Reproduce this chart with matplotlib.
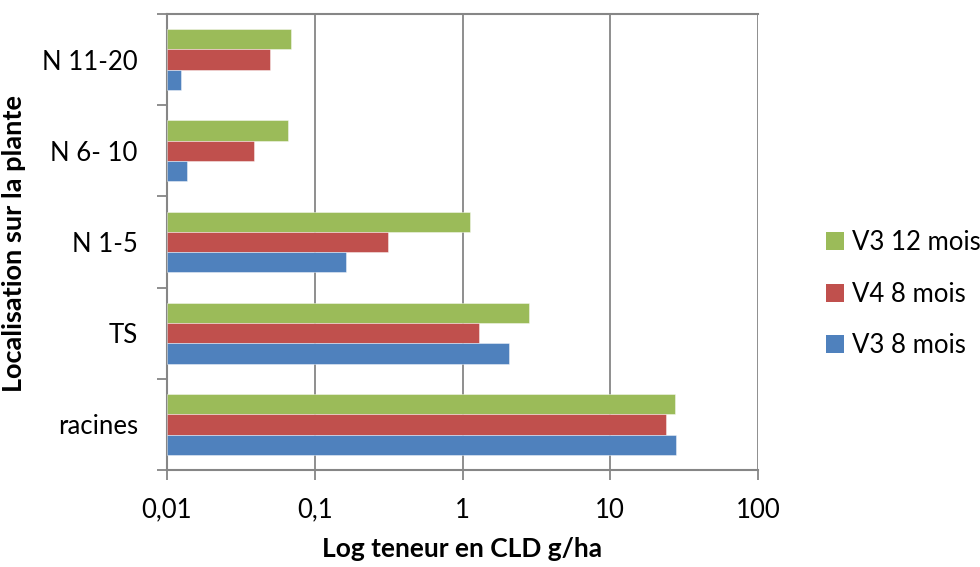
import matplotlib
matplotlib.use("Agg")
import matplotlib.pyplot as plt
import numpy as np
from matplotlib.patches import Patch

plt.rcParams['font.family'] = ['Lato', 'DejaVu Sans']

categories = ["racines", "TS", "N 1-5", "N 6- 10", "N 11-20"]
series_names = ["V3 12 mois", "V4 8 mois", "V3 8 mois"]
v3_12 = [27.4, 2.81, 1.12, 0.0658, 0.0693]
v4_8 = [23.9, 1.29, 0.313, 0.0388, 0.050]
v3_8 = [27.7, 2.06, 0.164, 0.01365, 0.01243]
x_ticks = [0.01, 0.1, 1, 10, 100]
x_ticklabels = ["0,01", "0,1", "1", "10", "100"]

colors = ["#9BBB59", "#C0504D", "#4F81BD"]
gray = "#868686"
fs = 18.5

fig = plt.figure(figsize=(9.8, 5.67), dpi=100)
ax = fig.add_axes([167/980, 1-470/567, (758-167)/980, (470-14)/567])

w = 1/4.5
y = np.arange(len(categories))
base = 0.01
for vals, off, c in zip([v3_12, v4_8, v3_8], [w, 0, -w], colors):
    vals = np.asarray(vals)
    ax.barh(y + off, vals - base, left=base, height=w, color=c,
            edgecolor=(1, 1, 1, 0.5), linewidth=0.6, zorder=3)

ax.set_xscale('log')
ax.set_xlim(0.01, 100)
ax.set_ylim(-0.5, len(categories) - 0.5)
ax.set_xticks(x_ticks)
ax.set_xticklabels(x_ticklabels)
ax.xaxis.set_minor_locator(matplotlib.ticker.NullLocator())
ax.set_yticks(y)
ax.set_yticklabels(categories)
ax.set_yticks(np.arange(-0.5, len(categories)), minor=True)
ax.tick_params(axis='y', which='major', length=0, pad=21, labelsize=fs)
ax.tick_params(axis='y', which='minor', length=7, width=1.3, color=gray, direction='out')
ax.tick_params(axis='x', which='major', length=7, width=1.3, color=gray, direction='out', pad=13, labelsize=fs)

ax.grid(axis='x', which='major', color=gray, linewidth=1.3, zorder=0)
ax.set_axisbelow(True)
for s in ['left', 'bottom', 'top']:
    ax.spines[s].set_color(gray)
    ax.spines[s].set_linewidth(1.5)
ax.spines['right'].set_visible(False)

fig.text(462/980, 1 - 549/567, "Log teneur en CLD g/ha", fontsize=19, fontweight='bold',
         ha='center', va='center')
fig.text(14/980, 1 - 243/567, "Localisation sur la plante", rotation=90, fontsize=19.5,
         fontweight='bold', ha='center', va='center')

handles = [Patch(facecolor=c, edgecolor='none') for c in colors]
fig.legend(handles, series_names, loc='center left', bbox_to_anchor=(826/980, 1 - 294/567),
           frameon=False, fontsize=fs, handlelength=0.7, handleheight=0.7,
           handletextpad=0.3, labelspacing=1.05, borderpad=0, borderaxespad=0)

fig.savefig("out.png", dpi=100)
